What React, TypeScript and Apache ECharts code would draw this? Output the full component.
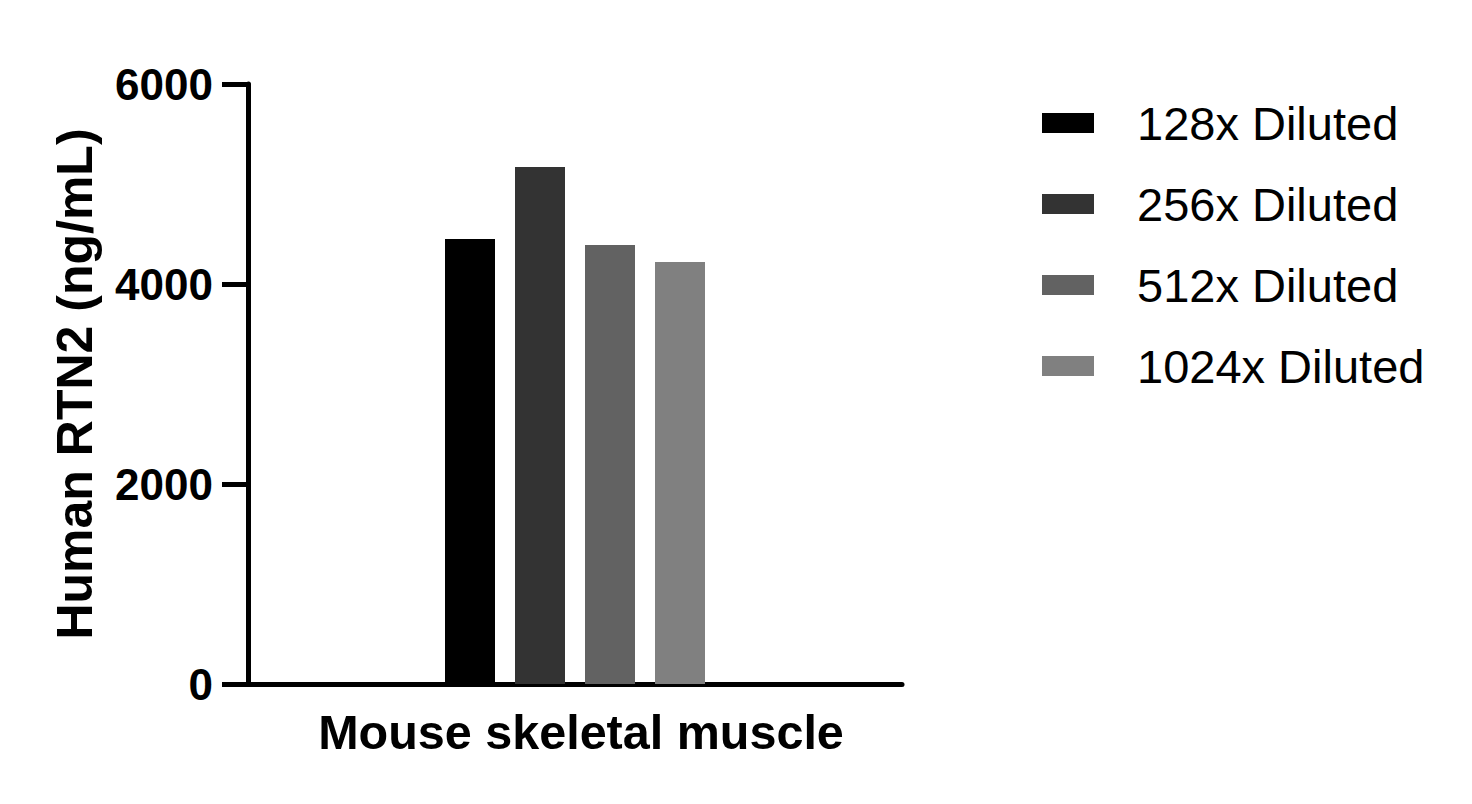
import React, { useEffect, useRef } from "react";
import * as echarts from "echarts";

const categories = ["Mouse skeletal muscle"];
const seriesNames = ["128x Diluted", "256x Diluted", "512x Diluted", "1024x Diluted"];
const seriesValues = [[4450], [5170], [4390], [4220]];
const seriesColors = ["#000000", "#333333", "#626262", "#808080"];
const yTicks = { min: 0, max: 6000, interval: 2000 };
const yTitle = "Human RTN2 (ng/mL)";

export default function App() {
  const ref = useRef<HTMLDivElement>(null);
  useEffect(() => {
    if (!ref.current) return;
    const chart = echarts.init(ref.current, null, { renderer: "svg" });
    const font = "Liberation Sans, Arial, sans-serif";
    chart.setOption({
      animation: false,
      backgroundColor: "#ffffff",
      grid: { left: 248, right: 570, top: 84, bottom: 120, containLabel: false },
      legend: {
        orient: "vertical",
        left: 1037,
        top: 90,
        itemWidth: 52,
        itemHeight: 20,
        itemGap: 25,
        icon: "rect",
        data: seriesNames,
        textStyle: {
          fontFamily: font,
          fontSize: 47,
          color: "#000",
          lineHeight: 56,
          padding: [0, 0, 0, 38],
        },
      },
      xAxis: {
        type: "category",
        data: categories,
        axisLine: { show: true, lineStyle: { color: "#000", width: 5 } },
        axisTick: { show: false },
        axisLabel: {
          fontFamily: font,
          fontSize: 48.5,
          fontWeight: "bold",
          color: "#000",
          margin: 23,
          padding: [0, 0, 0, 12],
        },
        splitLine: { show: false },
      },
      yAxis: {
        type: "value",
        min: yTicks.min,
        max: yTicks.max,
        interval: yTicks.interval,
        name: yTitle,
        nameLocation: "middle",
        nameGap: 148,
        nameTextStyle: { fontFamily: font, fontSize: 50, fontWeight: "bold", color: "#000" },
        axisLine: { show: true, lineStyle: { color: "#000", width: 5 } },
        axisTick: { show: true, length: 26, lineStyle: { color: "#000", width: 5 } },
        axisLabel: {
          fontFamily: font,
          fontSize: 44,
          fontWeight: "bold",
          color: "#000",
          margin: 35,
          formatter: (v: number) => String(v),
        },
        splitLine: { show: false },
      },
      series: seriesNames.map((name, i) => ({
        name,
        type: "bar",
        data: seriesValues[i],
        barWidth: 50,
        barGap: "40%",
        itemStyle: { color: seriesColors[i] },
      })),
    });
    return () => chart.dispose();
  }, []);
  return (
    <div
      ref={ref}
      style={{ position: "fixed", left: 0, top: 0, width: 1472, height: 804, background: "#fff" }}
    />
  );
}
